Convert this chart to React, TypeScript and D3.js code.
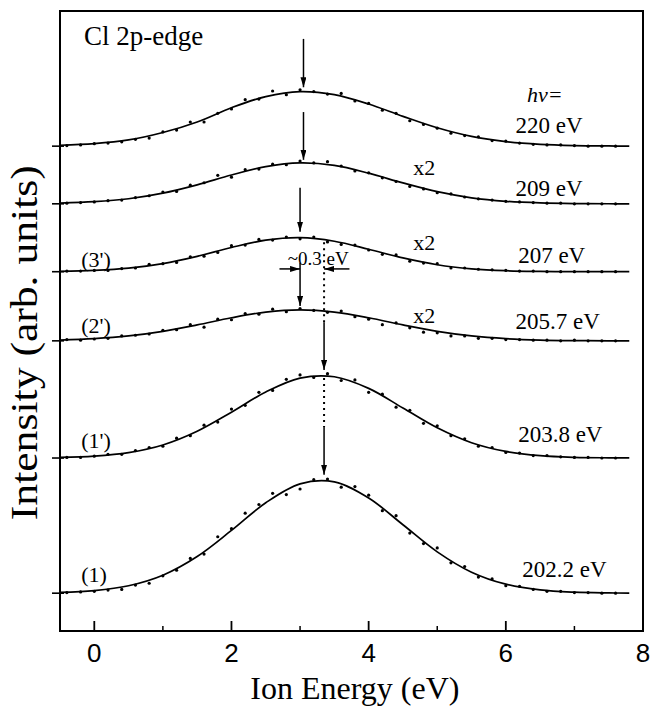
import * as d3 from "d3";
import { useEffect, useRef } from "react";

// ion energy grid (eV) for the fitted curves and the measured points
const fitX = [-0.5, 0, 0.5, 1, 1.5, 2, 2.5, 3, 3.5, 4, 4.5, 5, 5.5, 6, 6.5, 7, 7.5, 7.8];
const dotX = [
  -0.4, -0.2, 0, 0.2, 0.4, 0.6, 0.8, 1, 1.2, 1.4, 1.6, 1.8, 2, 2.2, 2.4, 2.6, 2.8, 3, 3.2, 3.4,
  3.6, 3.8, 4, 4.2, 4.4, 4.6, 4.8, 5, 5.2, 5.4, 5.6, 5.8, 6, 6.2, 6.4, 6.6, 6.8, 7, 7.2, 7.4, 7.6,
];

// spectra, bottom to top
const photonEnergies = ["202.2 eV", "203.8 eV", "205.7 eV", "207 eV", "209 eV", "220 eV"];
const peakNames = ["(1)", "(1')", "(2')", "(3')", "", ""];
const scaleNotes = ["", "", "x2", "x2", "x2", ""];
const offsets = [6.1, 27.9, 46.8, 57.95, 68.9, 78.2];

const fit1 = [0.12, 0.41, 1.2, 2.9, 5.91, 10.12, 14.58, 17.64, 17.95, 15.35, 11.04, 6.67, 3.39, 1.45, 0.52, 0.16, 0.04, 0.01];
const fit2 = [0.09, 0.3, 0.87, 2.11, 4.32, 7.39, 10.65, 12.89, 13.11, 11.23, 8.07, 4.87, 2.47, 1.06, 0.38, 0.11, 0.03, 0.01];
const fit3 = [0.13, 0.35, 0.79, 1.53, 2.57, 3.72, 4.64, 5.0, 4.64, 3.72, 2.57, 1.53, 0.79, 0.35, 0.13, 0.04, 0.01, 0];
const fit4 = [0.06, 0.21, 0.57, 1.31, 2.48, 3.91, 5.09, 5.49, 4.91, 3.62, 2.22, 1.12, 0.47, 0.16, 0.05, 0.01, 0, 0];
const fit5 = [0.12, 0.34, 0.82, 1.72, 3.06, 4.64, 5.99, 6.59, 6.19, 4.94, 3.37, 1.96, 0.97, 0.41, 0.15, 0.04, 0.01, 0];
const fit6 = [0.15, 0.4, 1.0, 2.2, 3.9, 6.2, 8.0, 8.8, 8.3, 6.79, 4.81, 2.96, 1.57, 0.72, 0.29, 0.1, 0.03, 0.01];

const dots1 = [0.1, 0.2, 0.3, 0.5, 0.6, 1.3, 1.6, 2.8, 3.7, 5.6, 6.3, 9.1, 10.4, 12.9, 14.3, 16.1, 15.9, 16.8, 18.3, 18.4, 17.1, 17.2, 15.8, 13.3, 12.5, 9.7, 8.0, 7.3, 4.9, 4.3, 2.6, 2.3, 1.2, 1.1, 0.6, 0.3, 0.3, 0.1, 0.1, 0, 0];
const dots2 = [0.1, 0.1, 0.3, 0.6, 0.6, 1.2, 1.7, 1.9, 3.2, 3.6, 5.3, 5.8, 7.9, 8.5, 10.6, 10.9, 12.7, 13.4, 13.0, 13.6, 12.5, 12.6, 10.6, 10.3, 8.2, 7.7, 5.6, 5.2, 3.6, 3.1, 1.9, 1.7, 0.9, 0.8, 0.4, 0.4, 0.2, 0.1, 0.1, 0, 0];
const dots3 = [0.2, 0.1, 0.3, 0.4, 0.8, 0.9, 1.1, 1.7, 1.8, 2.6, 2.2, 3.5, 3.4, 4.4, 4.3, 5.1, 4.7, 5.2, 4.9, 4.6, 4.8, 3.9, 3.5, 2.6, 2.9, 2.1, 1.4, 1.3, 0.8, 0.8, 0.4, 0.4, 0.2, 0.2, 0.1, 0.1, 0, 0.1, 0, 0, 0];
const dots4 = [0.1, 0.1, 0.2, 0.2, 0.5, 0.6, 1.2, 1.3, 1.5, 2.4, 2.5, 3.1, 4.2, 4.3, 5.2, 5.1, 5.6, 5.3, 5.6, 4.8, 4.4, 4.3, 3.5, 2.8, 2.7, 1.7, 1.4, 1.3, 0.6, 0.6, 0.4, 0.3, 0.2, 0.1, 0.1, 0, 0, 0, 0, 0, 0];
const dots5 = [0.1, 0.2, 0.3, 0.5, 0.6, 1.0, 1.3, 1.9, 2.0, 3.0, 3.4, 4.6, 4.3, 5.5, 5.6, 6.4, 6.3, 6.9, 6.6, 6.8, 6.1, 5.3, 5.0, 4.2, 3.6, 2.8, 2.4, 1.8, 1.6, 1.1, 0.8, 0.6, 0.4, 0.3, 0.2, 0.1, 0.1, 0, 0, 0, 0];
const dots6 = [0.1, 0.2, 0.4, 0.5, 0.7, 1.1, 1.3, 2.3, 2.6, 3.9, 3.9, 5.3, 6.0, 7.5, 7.6, 8.9, 8.3, 9.1, 8.8, 8.4, 8.5, 7.3, 6.9, 5.8, 5.3, 4.1, 3.5, 2.9, 2.1, 1.7, 1.5, 0.9, 0.8, 0.5, 0.3, 0.2, 0.2, 0.1, 0, 0, 0];

const fits = [fit1, fit2, fit3, fit4, fit5, fit6];
const dots = [dots1, dots2, dots3, dots4, dots5, dots6];

// peak positions (eV) marked with arrows
const peakCenters = [3.35, 3.35, 3.0, 3.0, 3.05, 3.05];

const xMajor = [0, 2, 4, 6, 8];
const xMinor = [1, 3, 5, 7];

const serif = "'Liberation Serif', 'Times New Roman', serif";
const sans = "'Liberation Sans', Arial, sans-serif";

export default function App() {
  const ref = useRef<SVGSVGElement | null>(null);

  useEffect(() => {
    if (!ref.current) return;
    const svg = d3.select(ref.current);
    svg.selectAll("*").remove();

    const left = 60;
    const right = 643;
    const top = 11;
    const bottom = 631;

    const x = d3.scaleLinear().domain([-0.5, 8]).range([left, right]);
    const y = d3.scaleLinear().domain([0, 100]).range([bottom, top]);

    const defs = svg.append("defs");
    defs
      .append("marker")
      .attr("id", "head")
      .attr("viewBox", "0 0 10 6")
      .attr("refX", 10)
      .attr("refY", 3)
      .attr("markerWidth", 10)
      .attr("markerHeight", 6)
      .attr("markerUnits", "userSpaceOnUse")
      .attr("orient", "auto")
      .append("path")
      .attr("d", "M0,0 L10,3 L0,6 Z")
      .attr("fill", "#000");

    // frame
    svg
      .append("rect")
      .attr("x", left)
      .attr("y", top)
      .attr("width", right - left)
      .attr("height", bottom - top)
      .attr("fill", "none")
      .attr("stroke", "#000")
      .attr("stroke-width", 2);

    // x ticks, drawn inward
    svg
      .append("g")
      .selectAll("line")
      .data(xMajor.filter((d) => d < 8))
      .join("line")
      .attr("x1", (d) => x(d))
      .attr("x2", (d) => x(d))
      .attr("y1", bottom)
      .attr("y2", bottom - 10)
      .attr("stroke", "#000")
      .attr("stroke-width", 1.8);
    svg
      .append("g")
      .selectAll("line")
      .data(xMinor)
      .join("line")
      .attr("x1", (d) => x(d))
      .attr("x2", (d) => x(d))
      .attr("y1", bottom)
      .attr("y2", bottom - 5)
      .attr("stroke", "#000")
      .attr("stroke-width", 1.5);

    svg
      .append("g")
      .selectAll("text")
      .data(xMajor)
      .join("text")
      .attr("x", (d) => x(d))
      .attr("y", bottom + 31)
      .attr("text-anchor", "middle")
      .attr("font-family", sans)
      .attr("font-size", 26)
      .text((d) => d);

    svg
      .append("text")
      .attr("x", x(3.8))
      .attr("y", 699)
      .attr("text-anchor", "middle")
      .attr("font-family", serif)
      .attr("font-size", 32)
      .text("Ion Energy (eV)");

    svg
      .append("text")
      .attr("transform", `translate(37,${y(46.5)}) rotate(-90)`)
      .attr("text-anchor", "middle")
      .attr("font-family", serif)
      .attr("font-size", 38)
      .attr("textLength", 355)
      .attr("lengthAdjust", "spacingAndGlyphs")
      .text("Intensity (arb. units)");

    const line = d3
      .line<number>()
      .x((_, i) => x(fitX[i]))
      .curve(d3.curveCatmullRom.alpha(0.5));

    fits.forEach((f, k) => {
      const base = offsets[k];
      // baseline tick on the left axis
      svg
        .append("line")
        .attr("x1", left - 8)
        .attr("x2", left + 4)
        .attr("y1", y(base))
        .attr("y2", y(base))
        .attr("stroke", "#000")
        .attr("stroke-width", 1.6);

      svg
        .append("path")
        .attr("d", line.y((v) => y(base + v))(f))
        .attr("fill", "none")
        .attr("stroke", "#000")
        .attr("stroke-width", 1.7);

      svg
        .append("g")
        .selectAll("circle")
        .data(dots[k])
        .join("circle")
        .attr("cx", (_, i) => x(dotX[i]))
        .attr("cy", (v) => y(base + v))
        .attr("r", 1.6)
        .attr("fill", "#000");
    });

    // text labels
    const label = (tx: number, ty: number, s: string, size: number, italic = false) =>
      svg
        .append("text")
        .attr("x", x(tx))
        .attr("y", y(ty))
        .attr("font-family", serif)
        .attr("font-size", size)
        .attr("font-style", italic ? "italic" : "normal")
        .text(s);

    label(-0.15, 94.5, "Cl 2p-edge", 27);
    label(6.31, 85.3, "hν=", 22, true);

    const energyY = [8.7, 30.5, 48.7, 59.4, 70.2, 80.3];
    const energyX = [6.24, 6.18, 6.14, 6.18, 6.14, 6.14];
    photonEnergies.forEach((s, k) => label(energyX[k], energyY[k], s, 23));

    const nameY = [7.9, 29.5, 48.1, 58.7];
    peakNames.forEach((s, k) => s && label(-0.19, nameY[k], s, 22));

    const noteY = [0, 0, 49.7, 61.5, 73.5];
    scaleNotes.forEach((s, k) => s && label(4.65, noteY[k], s, 22));

    label(2.82, 59.0, "~0.3 eV", 19);

    // arrows marking the peaks
    const arrow = (x1: number, y1: number, x2: number, y2: number, dashed = false) =>
      svg
        .append("line")
        .attr("x1", x(x1))
        .attr("y1", y(y1))
        .attr("x2", x(x2))
        .attr("y2", y(y2))
        .attr("stroke", "#000")
        .attr("stroke-width", dashed ? 2 : 1.5)
        .attr("stroke-dasharray", dashed ? "2,4" : null)
        .attr("marker-end", dashed ? null : "url(#head)");

    arrow(peakCenters[5], 95.5, peakCenters[5], 87.7);
    arrow(peakCenters[4], 83.7, peakCenters[4], 76.0);
    arrow(peakCenters[3], 71.5, peakCenters[3], 64.4);
    arrow(peakCenters[2], 59.4, peakCenters[2], 52.4);
    arrow(peakCenters[1], 62.7, peakCenters[1], 49.8, true);
    arrow(peakCenters[1], 49.8, peakCenters[1], 42.1);
    arrow(peakCenters[0], 40.8, peakCenters[0], 32.9, true);
    arrow(peakCenters[0], 32.9, peakCenters[0], 25.2);

    // ~0.3 eV shift markers
    arrow(2.7, 58.4, peakCenters[2], 58.4);
    arrow(3.72, 58.4, peakCenters[1], 58.4);
  }, []);

  return (
    <svg
      ref={ref}
      width={651}
      height={709}
      style={{ position: "absolute", left: 0, top: 0, background: "#fff" }}
    />
  );
}
